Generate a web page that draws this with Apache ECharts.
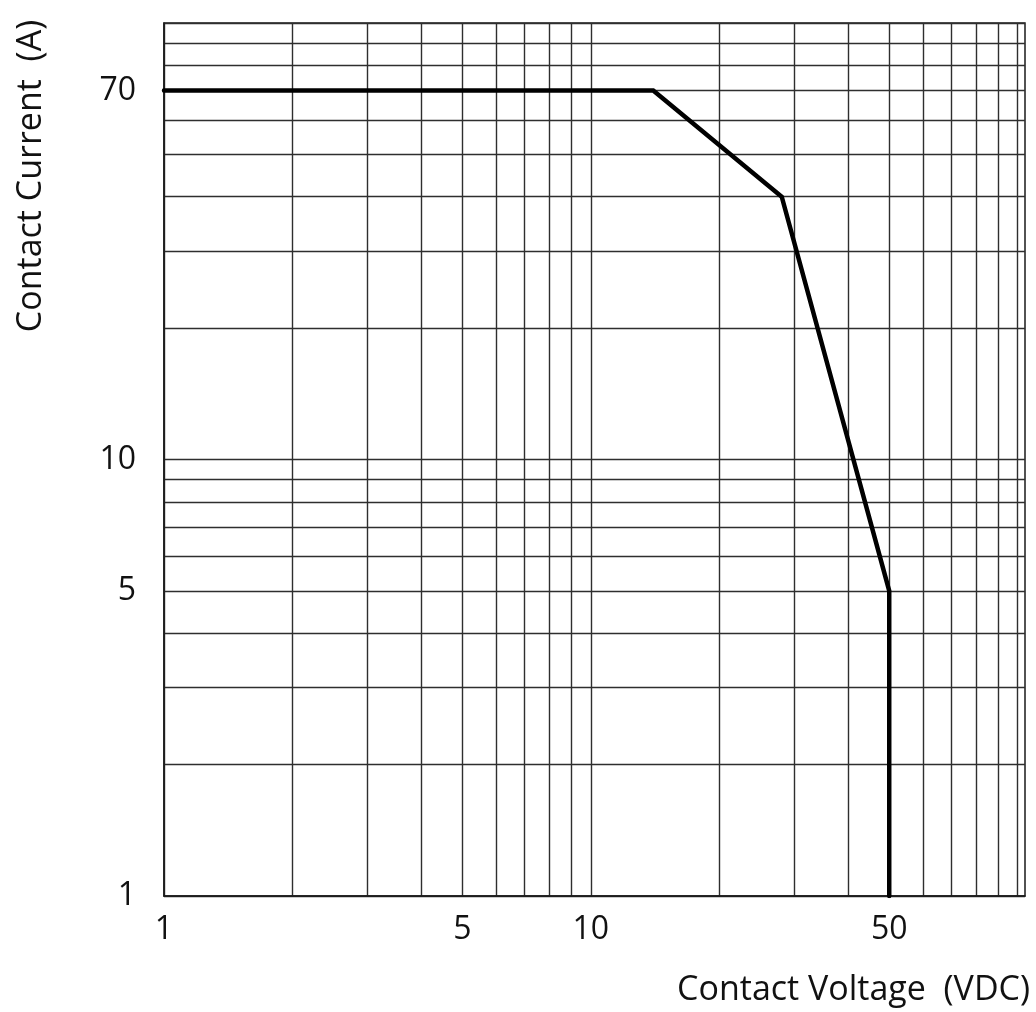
<!DOCTYPE html>
<html>
<head>
<meta charset="utf-8">
<script src="https://cdn.jsdelivr.net/npm/echarts@6/dist/echarts.min.js"></script>
<style>
  html, body { margin: 0; padding: 0; background: #fff; }
  #chart { width: 1036px; height: 1012px; }
</style>
</head>
<body>
<div id="chart"></div>
<script>
// ---- data ----
const voltage = [1, 14, 28, 50, 50];          // Contact Voltage (VDC)
const current = [70, 70, 40, 5, 1];           // Contact Current (A)
const xGridValues = [1, 2, 3, 4, 5, 6, 7, 8, 9, 10, 20, 30, 40, 50, 60, 70, 80, 90, 100];
const yGridValues = [1, 2, 3, 4, 5, 6, 7, 8, 9, 10, 20, 30, 40, 50, 60, 70, 80, 90, 100];
const xTickLabels = [1, 5, 10, 50];
const yTickLabels = [1, 5, 10, 70];
const xTitle = 'Contact Voltage  (VDC)';
const yTitle = 'Contact Current  (A)';

const FONT = '"Open Sans", "Noto Sans", sans-serif';
const chart = echarts.init(document.getElementById('chart'), null, { renderer: 'canvas' });

const option = {
  backgroundColor: '#fff',
  animation: false,
  grid: {
    left: 164, right: 11, top: 23, bottom: 116,
    show: true, borderColor: '#1a1a1a', borderWidth: 1.5, backgroundColor: 'transparent'
  },
  xAxis: {
    type: 'log', logBase: 10, min: 1, max: 104,
    axisLine: { show: true, lineStyle: { color: '#1a1a1a', width: 1.5 } },
    axisTick: { show: false, customValues: xGridValues },
    splitLine: { show: true, lineStyle: { color: '#2e2e2e', width: 1.4 } },
    minorSplitLine: { show: false },
    axisLabel: {
      customValues: xTickLabels, margin: 18,
      fontFamily: FONT, fontSize: 32, color: '#111',
      formatter: v => String(v)
    }
  },
  yAxis: {
    type: 'log', logBase: 10, min: 1, max: 100,
    axisLine: { show: true, lineStyle: { color: '#1a1a1a', width: 1.5 } },
    axisTick: { show: false, customValues: yGridValues },
    splitLine: { show: true, lineStyle: { color: '#2e2e2e', width: 1.4 } },
    axisLabel: {
      customValues: yTickLabels, margin: 28,
      fontFamily: FONT, fontSize: 32, color: '#111',
      formatter: v => String(v)
    }
  },
  graphic: [
    {
      type: 'text', x: 31, y: 176, rotation: Math.PI / 2,
      style: { text: yTitle, font: '34px ' + FONT, fill: '#111', align: 'center', verticalAlign: 'middle' }
    },
    {
      type: 'text', x: 1030, y: 990,
      style: { text: xTitle, font: '34px ' + FONT, fill: '#111', align: 'right', verticalAlign: 'middle' }
    }
  ],
  series: [{
    type: 'line',
    data: voltage.map((v, i) => [v, current[i]]),
    showSymbol: false,
    lineStyle: { color: '#000', width: 4.5, cap: 'round', join: 'miter' },
    itemStyle: { color: '#000' },
    z: 5
  }]
};
chart.setOption(option);
</script>
</body>
</html>
